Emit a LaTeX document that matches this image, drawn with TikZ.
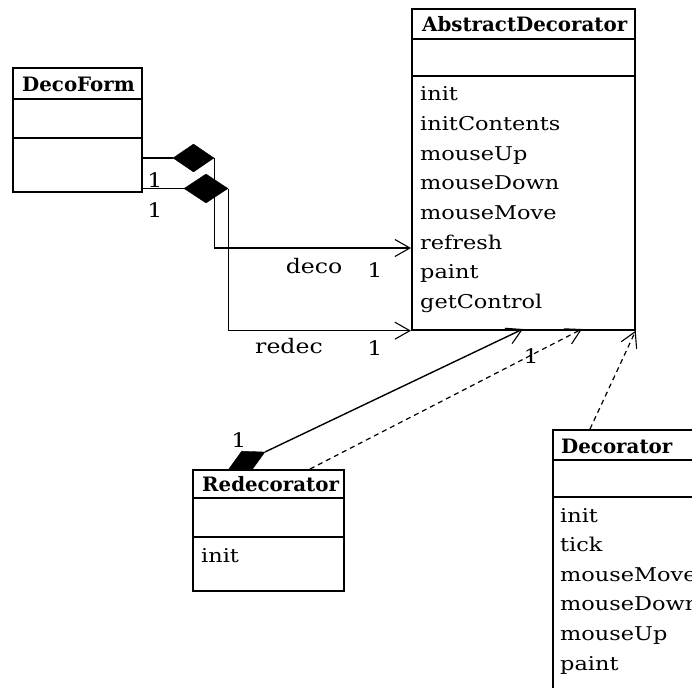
\documentclass[tikz,border=0pt]{standalone}
\usepackage{fontspec}
\setmainfont{DejaVu Serif}
\newfontfamily\opsfont{DejaVu Serif}[FakeStretch=1.18]
\newfontfamily\ttlfont{DejaVu Serif}
\usetikzlibrary{arrows.meta,shapes.geometric}
\begin{document}
\begin{tikzpicture}[x=1pt,y=-1pt,
  classbox/.style={draw, line width=1.7pt, inner sep=0pt, anchor=north west},
  sepline/.style={line width=1.5pt},
  ttl/.style={anchor=base west, inner sep=0pt, font=\ttlfont\bfseries\fontsize{19.8pt}{22pt}\selectfont},
  op/.style={anchor=base west, inner sep=0pt, font=\opsfont\fontsize{19pt}{22pt}\selectfont},
  lbl/.style={anchor=base, inner sep=0pt, font=\opsfont\fontsize{20pt}{22pt}\selectfont},
  conn/.style={line width=1.4pt},
  dconn/.style={line width=1.2pt, dash pattern=on 5pt off 4pt},
  oarrow/.style={-{Straight Barb[length=15pt,width=17pt,line width=1.1pt]}},
  comp/.style={diamond, fill=black, draw=black, inner sep=0pt}]
\useasboundingbox (0,0) rectangle (692,687);
\clip (0,0) rectangle (692,687);
\fill[white] (0,0) rectangle (692,687);

% DecoForm
\node[classbox, minimum width=129pt, minimum height=124pt] (df) at (12,67) {};
\draw[sepline] (12,99) -- (141,99);
\draw[sepline] (12,138) -- (141,138);
\node[ttl] (dfT) at (22,92) {DecoForm};

% AbstractDecorator
\node[classbox, minimum width=223pt, minimum height=321pt] (ad) at (411,8) {};
\draw[sepline] (411,39) -- (634,39);
\draw[sepline] (411,76) -- (634,76);
\node[ttl] (adT) at (422,32) {AbstractDecorator};
\node[op] (ad1) at (420,101) {init};
\node[op] (ad2) at (420,130.6) {initContents};
\node[op] (ad3) at (420,160.2) {mouseUp};
\node[op] (ad4) at (420,189.8) {mouseDown};
\node[op] (ad5) at (420,219.4) {mouseMove};
\node[op] (ad6) at (420,249) {refresh};
\node[op] (ad7) at (420,278.6) {paint};
\node[op] (ad8) at (420,308.2) {getControl};

% Redecorator
\node[classbox, minimum width=151pt, minimum height=121pt] (rd) at (192,469) {};
\draw[sepline] (192,498) -- (343,498);
\draw[sepline] (192,537) -- (343,537);
\node[ttl] (rdT) at (202,491) {Redecorator};
\node[op] (rd1) at (201,562) {init};

% Decorator
\node[classbox, minimum width=200pt, minimum height=300pt] (dc) at (552,429) {};
\draw[sepline] (552,460) -- (752,460);
\draw[sepline] (552,497) -- (752,497);
\node[ttl] (dcT) at (561,453) {Decorator};
\node[op] (dc1) at (560,522) {init};
\node[op] (dc2) at (560,551.6) {tick};
\node[op] (dc3) at (560,581.2) {mouseMove};
\node[op] (dc4) at (560,610.8) {mouseDown};
\node[op] (dc5) at (560,640.4) {mouseUp};
\node[op] (dc6) at (560,670) {paint};

% composition diamonds
\node[comp, minimum width=41pt, minimum height=28pt] (d1) at (193.5,158) {};
\node[comp, minimum width=44pt, minimum height=29pt] (d2) at (206,188.5) {};
\node[comp, minimum width=41pt, minimum height=22pt, rotate=26] (d3) at (246.5,461) {};

% anchor points
\coordinate (k1) at (411,248);
\coordinate (a1) at (523,329);
\coordinate (a2) at (582,329);
\coordinate (r1) at (310,469);
\coordinate (c1) at (590,429);

% connectors
\draw[conn] (df.east |- d1) -- (d1.west);
\draw[conn] (df.east |- d2) -- (d2.west);
\draw[conn, oarrow] (d1.east) |- (k1);
\draw[conn, oarrow] (d2.east) |- (ad.south west);
\draw[conn, oarrow] (d3.east) -- (a1);
\draw[dconn, oarrow] (r1) -- (a2);
\draw[dconn, oarrow] (c1) -- (ad.south east);

% labels
\node[lbl] at (155,187) {1};
\node[lbl] at (155,217) {1};
\node[lbl] at (314,273) {deco};
\node[lbl] at (375,277) {1};
\node[lbl] at (289,353) {redec};
\node[lbl] at (375,355) {1};
\node[lbl] at (239,447) {1};
\node[lbl] at (531,363) {1};
\end{tikzpicture}
\end{document}
